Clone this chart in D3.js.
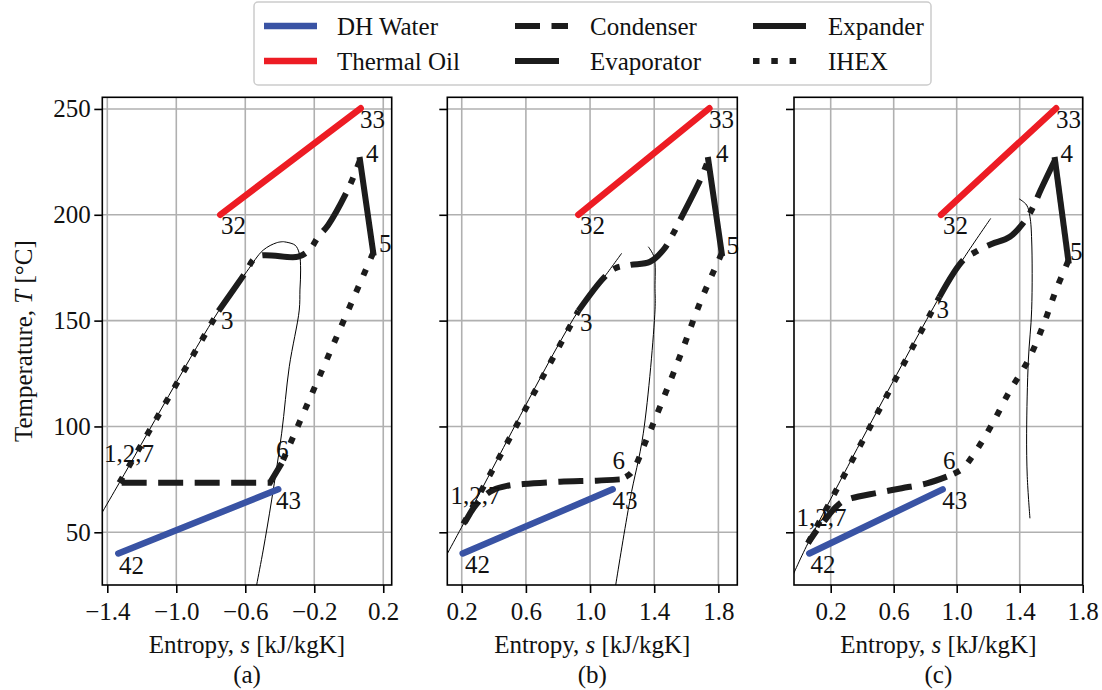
<!DOCTYPE html>
<html>
<head>
<meta charset="utf-8">
<script src="https://cdn.jsdelivr.net/npm/d3@7"></script>
<style>
  body { margin: 0; background: #fff; }
  svg { display: block; font-family: "Liberation Serif", "DejaVu Serif", serif; }
</style>
</head>
<body>
<div id="wrapper"></div>
<script>
// ---- data (entropy s [kJ/kgK], temperature T [°C]) ----
const panelNames = ["(a)", "(b)", "(c)"];
const sDomains = [[-1.429, 0.249], [0.110, 1.918], [-0.033, 1.800]];
const tDomain = [25.1, 255.5];
const sTicks = [[-1.4, -1.0, -0.6, -0.2, 0.2], [0.2, 0.6, 1.0, 1.4, 1.8], [0.2, 0.6, 1.0, 1.4, 1.8]];
const tTicks = [50, 100, 150, 200, 250];

const dhWater = [
  [[-1.336, 40.0], [-0.409, 70.3]],
  [[0.206, 40.0], [1.141, 70.3]],
  [[0.064, 40.0], [0.911, 70.3]]
];
const thermalOil = [
  [[-0.745, 200.0], [0.069, 250.3]],
  [[0.927, 200.0], [1.744, 250.3]],
  [[0.900, 200.0], [1.631, 250.3]]
];
const condenser = [
  [[-0.389, 82.6], [-0.457, 73.4], [-1.330, 73.4]],
  [[1.185, 75.0], [1.042, 74.4], [0.813, 73.9], [0.584, 72.8], [0.481, 71.9], [0.397, 70.0], [0.335, 66.8], [0.272, 61.3], [0.221, 55.0], [0.210, 53.9]],
  [[0.937, 76.3], [0.810, 73.1], [0.651, 70.8], [0.494, 68.6], [0.333, 66.1], [0.270, 64.3], [0.215, 60.5], [0.164, 55.8], [0.113, 51.1], [0.056, 44.9]]
];
const evaporator = [
  [[-0.755, 154.5], [-0.602, 172.3], [-0.532, 180.2], [-0.293, 180.2], [-0.225, 183.7], [-0.177, 189.6], [-0.119, 195.2], [0.003, 213.3], [0.065, 225.9]],
  [[0.927, 154.6], [1.083, 170.0], [1.156, 174.7], [1.249, 176.3], [1.374, 177.8], [1.457, 183.4], [1.519, 191.2], [1.561, 197.5], [1.686, 216.4], [1.737, 225.9]],
  [[0.890, 161.1], [1.042, 178.6], [1.131, 182.9], [1.222, 186.2], [1.338, 189.6], [1.444, 198.3], [1.491, 204.6], [1.533, 211.7], [1.624, 225.9]]
];
const expander = [
  [[0.065, 225.9], [0.142, 182.1]],
  [[1.737, 225.9], [1.821, 181.8]],
  [[1.624, 225.9], [1.709, 178.3]]
];
const ihexHot = [
  [[0.142, 182.1], [-0.389, 82.6]],
  [[1.821, 181.8], [1.688, 158.9], [1.568, 134.6], [1.436, 109.3], [1.349, 93.3], [1.254, 77.9], [1.185, 75.0]],
  [[1.709, 178.3], [1.631, 164.5], [1.550, 147.9], [1.455, 131.4], [1.334, 116.4], [1.222, 100.7], [1.105, 86.5], [1.032, 79.8], [0.937, 76.3]]
];
const ihexCold = [
  [[-1.330, 73.4], [-0.755, 154.5]],
  [[0.210, 53.9], [0.927, 154.6]],
  [[0.056, 44.9], [0.890, 161.1]]
];
const satLiquid = [
  [[-1.5, 49.5], [-1.330, 73.4], [-0.755, 154.5], [-0.592, 173.1], [-0.496, 183.3], [-0.418, 186.8], [-0.380, 187.3]],
  [[0.065, 33.6], [0.210, 53.9], [0.927, 154.6], [1.083, 170.0], [1.197, 181.8]],
  [[-0.05, 28.0], [0.056, 44.9], [0.890, 161.1], [1.051, 180.2], [1.216, 198.3]]
];
const satVapour = [
  [[-0.380, 187.3], [-0.312, 185.7], [-0.287, 181.8], [-0.279, 173.9], [-0.283, 164.5], [-0.287, 155.0], [-0.345, 128.2], [-0.389, 96.8], [-0.447, 65.3], [-0.496, 41.6], [-0.534, 25.1], [-0.545, 20.0]],
  [[1.363, 184.9], [1.399, 180.0], [1.405, 165.2], [1.405, 155.1], [1.332, 96.8], [1.249, 65.3], [1.160, 25.1], [1.150, 20.0]],
  [[1.397, 207.5], [1.444, 204.6], [1.465, 199.1], [1.476, 188.1], [1.476, 155.1], [1.455, 131.4], [1.444, 96.8], [1.448, 76.3], [1.465, 56.6]]
];
// state point labels: text, s, T (baseline-left of the text)
const pointLabels = [
  [["33", 0.065, 241.2], ["4", 0.100, 224.9], ["5", 0.175, 182.4], ["32", -0.741, 191.1], ["3", -0.741, 146.0], ["6", -0.422, 84.9], ["43", -0.422, 61.2], ["42", -1.332, 30.5], ["1,2,7", -1.419, 83.0]],
  [["33", 1.742, 241.2], ["4", 1.785, 224.9], ["5", 1.850, 181.7], ["32", 0.938, 190.9], ["3", 0.938, 145.1], ["6", 1.140, 80.1], ["43", 1.140, 61.2], ["42", 0.221, 30.8], ["1,2,7", 0.130, 63.4]],
  [["33", 1.631, 241.2], ["4", 1.659, 224.9], ["5", 1.719, 178.6], ["32", 0.913, 190.9], ["3", 0.872, 151.2], ["6", 0.913, 80.1], ["43", 0.909, 60.8], ["42", 0.072, 30.8], ["1,2,7", -0.017, 53.2]]
];
const legendNames = ["DH Water", "Thermal Oil", "Condenser", "Evaporator", "Expander", "IHEX"];

// ---- layout ----
const dims = {
  width: 1102, height: 690,
  top: 97.3, bottom: 585,
  lefts: [102.3, 447.3, 794],
  rights: [391.7, 737.3, 1082.7]
};
const fontSize = 25;
const blue = "#3953a4", red = "#ed1c24", ink = "#1c1c1c";

const styles = {
  "DH Water":    { color: blue, width: 6.5, dash: null, cap: "round" },
  "Thermal Oil": { color: red, width: 6.5, dash: null, cap: "round" },
  "Condenser":   { color: ink, width: 6, dash: "25,11.5", cap: "butt" },
  "Evaporator":  { color: ink, width: 6, dash: "44,11,6.5,11", cap: "butt" },
  "Expander":    { color: ink, width: 6, dash: null, cap: "square" },
  "IHEX":        { color: ink, width: 6, dash: "6.5,11.8", cap: "butt" }
};

const svg = d3.select("#wrapper").append("svg")
  .attr("width", dims.width)
  .attr("height", dims.height);

const yScale = d3.scaleLinear().domain(tDomain).range([dims.bottom, dims.top]);

panelNames.forEach((name, i) => {
  const left = dims.lefts[i], right = dims.rights[i];
  const xScale = d3.scaleLinear().domain(sDomains[i]).range([left, right]);
  const g = svg.append("g");

  const clipId = "clip" + i;
  svg.append("clipPath").attr("id", clipId)
    .append("rect")
    .attr("x", left).attr("y", dims.top)
    .attr("width", right - left).attr("height", dims.bottom - dims.top);

  // grid
  g.selectAll(".gx").data(sTicks[i]).enter().append("line")
    .attr("x1", d => xScale(d)).attr("x2", d => xScale(d))
    .attr("y1", dims.top).attr("y2", dims.bottom)
    .attr("stroke", "#b0b0b0").attr("stroke-width", 1.6);
  g.selectAll(".gy").data(tTicks).enter().append("line")
    .attr("x1", left).attr("x2", right)
    .attr("y1", d => yScale(d)).attr("y2", d => yScale(d))
    .attr("stroke", "#b0b0b0").attr("stroke-width", 1.6);

  const plot = g.append("g").attr("clip-path", `url(#${clipId})`);
  const smooth = d3.line()
    .x(d => xScale(d[0])).y(d => yScale(d[1]))
    .curve(d3.curveCatmullRom.alpha(0.5));
  const straight = d3.line()
    .x(d => xScale(d[0])).y(d => yScale(d[1]));

  // saturation curves
  [satLiquid[i], satVapour[i]].forEach(pts => {
    plot.append("path").attr("d", smooth(pts))
      .attr("fill", "none").attr("stroke", "#000").attr("stroke-width", 1);
  });

  function draw(pts, key, lineGen) {
    const st = styles[key];
    plot.append("path").attr("d", lineGen(pts))
      .attr("fill", "none")
      .attr("stroke", st.color)
      .attr("stroke-width", st.width)
      .attr("stroke-linecap", st.cap)
      .attr("stroke-linejoin", "miter")
      .attr("stroke-dasharray", st.dash);
  }
  draw(dhWater[i], "DH Water", straight);
  draw(thermalOil[i], "Thermal Oil", straight);
  draw(condenser[i], "Condenser", i === 0 ? straight : smooth);
  draw(evaporator[i], "Evaporator", smooth);
  draw(expander[i], "Expander", straight);
  draw(ihexHot[i], "IHEX", smooth);
  draw(ihexCold[i], "IHEX", straight);

  // state labels
  g.selectAll(".lbl").data(pointLabels[i]).enter().append("text")
    .attr("x", d => xScale(d[1])).attr("y", d => yScale(d[2]))
    .attr("font-size", fontSize).attr("fill", "#111")
    .text(d => d[0]);

  // frame
  g.append("rect")
    .attr("x", left).attr("y", dims.top)
    .attr("width", right - left).attr("height", dims.bottom - dims.top)
    .attr("fill", "none").attr("stroke", "#000").attr("stroke-width", 1.6);

  // axes
  const xAxisGen = d3.axisBottom(xScale).tickValues(sTicks[i]).tickSize(8).tickPadding(9)
    .tickFormat(d3.format(".1f"));
  const axisX = g.append("g").attr("transform", `translate(0,${dims.bottom})`).call(xAxisGen);
  const yAxisGen = d3.axisLeft(yScale).tickValues(tTicks).tickSize(8).tickPadding(3.5)
    .tickFormat(i === 0 ? d3.format("d") : "");
  const axisY = g.append("g").attr("transform", `translate(${left},0)`).call(yAxisGen);
  [axisX, axisY].forEach(ax => {
    ax.select(".domain").remove();
    ax.selectAll("line").attr("stroke", "#000").attr("stroke-width", 1.6);
    ax.selectAll("text").attr("font-size", fontSize).attr("font-family", "Liberation Serif").attr("fill", "#111");
  });

  // x label and panel tag
  const cx = (left + right) / 2;
  const xl = g.append("text").attr("x", cx).attr("y", 653)
    .attr("text-anchor", "middle").attr("font-size", fontSize).attr("fill", "#111");
  xl.append("tspan").text("Entropy, ");
  xl.append("tspan").attr("font-style", "italic").text("s");
  xl.append("tspan").text(" [kJ/kgK]");
  g.append("text").attr("x", cx).attr("y", 683)
    .attr("text-anchor", "middle").attr("font-size", fontSize).attr("fill", "#111")
    .text(name);
});

// y label
const yl = svg.append("text")
  .attr("transform", `translate(32,${(dims.top + dims.bottom) / 2}) rotate(-90)`)
  .attr("text-anchor", "middle").attr("font-size", fontSize).attr("fill", "#111");
yl.append("tspan").text("Temperature, ");
yl.append("tspan").attr("font-style", "italic").text("T");
yl.append("tspan").text(" [\u00B0C]");

// legend
const legend = svg.append("g");
legend.append("rect")
  .attr("x", 254).attr("y", 2).attr("width", 677).attr("height", 83)
  .attr("rx", 4).attr("fill", "#fff").attr("fill-opacity", 0.85)
  .attr("stroke", "#cccccc").attr("stroke-width", 1.5);
const legendCols = [264, 515, 753];
const legendTextX = [337, 590, 828];
const legendRows = [26, 61];
legendNames.forEach((n, k) => {
  const col = Math.floor(k / 2), row = k % 2;
  const st = styles[n];
  legend.append("line")
    .attr("x1", legendCols[col]).attr("x2", legendCols[col] + 53)
    .attr("y1", legendRows[row]).attr("y2", legendRows[row])
    .attr("stroke", st.color).attr("stroke-width", st.width)
    .attr("stroke-dasharray", st.dash)
    .attr("stroke-linecap", "butt");
  legend.append("text")
    .attr("x", legendTextX[col]).attr("y", legendRows[row] + 8.5)
    .attr("font-size", fontSize).attr("fill", "#111")
    .text(n);
});
</script>
</body>
</html>
